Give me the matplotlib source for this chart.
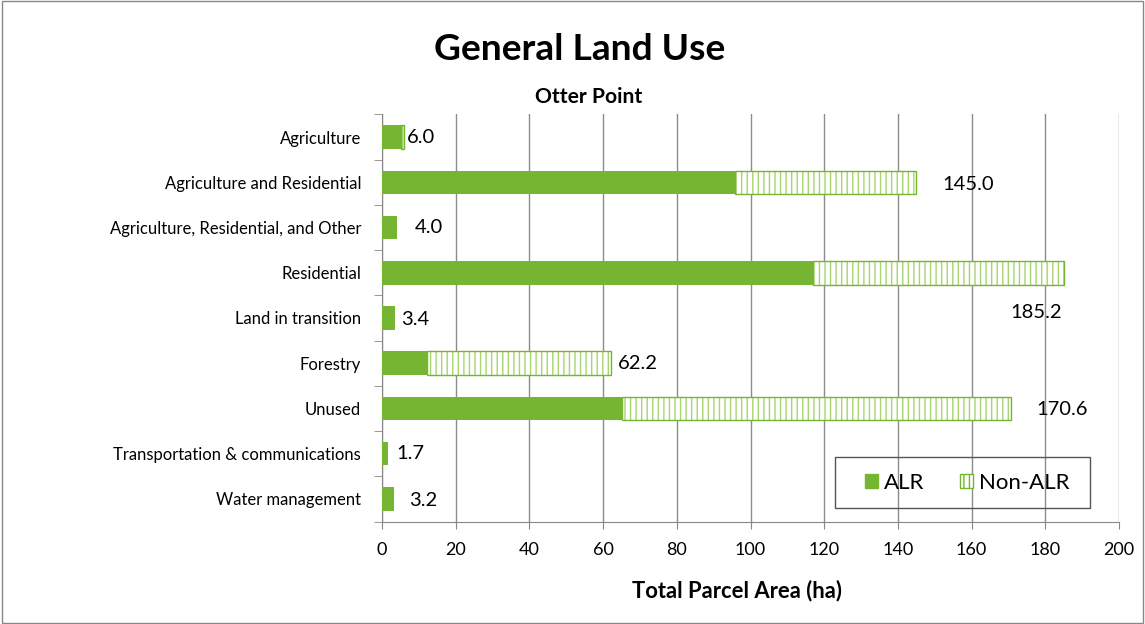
import numpy as np
import matplotlib
matplotlib.use('Agg')
import matplotlib.pyplot as plt
from matplotlib.patches import Patch, Rectangle

plt.rcParams['font.family'] = ['Lato', 'DejaVu Sans']

categories = ['Agriculture', 'Agriculture and Residential', 'Agriculture, Residential, and Other',
              'Residential', 'Land in transition', 'Forestry', 'Unused',
              'Transportation & communications', 'Water management']
alr = [5.2, 95.8, 4.0, 117.0, 3.4, 12.2, 65.0, 1.7, 3.2]
non_alr = [0.8, 49.2, 0.0, 68.2, 0.0, 50.0, 105.6, 0.0, 0.0]
totals = ['6.0', '145.0', '4.0', '185.2', '3.4', '62.2', '170.6', '1.7', '3.2']

# label placement (offset from bar end in ha, offset in rows)
lab_dx = [0.8, 7.0, 5.0, -14.8, 1.8, 1.8, 6.9, 2.1, 4.1]
lab_dy = [0.0, 0.05, 0.0, 0.87, 0.04, 0.0, 0.02, 0.0, 0.03]

green = '#76b531'
light = '#a6d46e'

fig = plt.figure(figsize=(11.45, 6.24), dpi=100)
ax = fig.add_axes([382/1145, 1-521.6/624, (1119-382)/1145, (521.6-114.4)/624])

y = np.arange(len(categories))
ax.barh(y, alr, height=0.52, color=green, zorder=3)
ax.barh(y, non_alr, left=alr, height=0.52, color='white', edgecolor=light,
        hatch='|||', linewidth=0, zorder=3)
nz = np.array(non_alr) > 0
ax.barh(y[nz], np.array(non_alr)[nz], left=np.array(alr)[nz], height=0.52, fill=False,
        edgecolor=green, linewidth=1.0, zorder=4)

for i, t in enumerate(totals):
    end = alr[i] + non_alr[i]
    ax.text(end + lab_dx[i], i + lab_dy[i], t, va='center', ha='left', fontsize=14.5, color='black')

ax.set_xlim(0, 200)
ax.set_ylim(len(categories) - 0.5, -0.5)
ax.set_xticks(np.arange(0, 201, 20))
ax.set_yticks(y)
ax.set_yticklabels(categories, fontsize=12)
ax.tick_params(axis='y', length=0, pad=15)
ax.set_yticks(np.arange(-0.5, len(categories)), minor=True)
ax.tick_params(axis='y', which='minor', length=6, color='#888888')
ax.tick_params(axis='x', length=5, color='#888888', labelsize=13, pad=10)
ax.grid(axis='x', color='#8c8c8c', linewidth=1, zorder=0)
for s in ['top', 'right']:
    ax.spines[s].set_visible(False)
for s in ['left', 'bottom']:
    ax.spines[s].set_color('#888888')

fig.text(737/1145, 1-591/624, 'Total Parcel Area (ha)', ha='center', va='center',
         fontsize=15.8, fontweight='bold')
fig.text(580/1145, 1-50/624, 'General Land Use', ha='center', va='center',
         fontsize=26.7, fontweight='bold')
fig.text(589/1145, 1-97/624, 'Otter Point', ha='center', va='center',
         fontsize=15.1, fontweight='bold')

handles = [Patch(facecolor=green, edgecolor=green),
           Patch(facecolor='white', edgecolor=green, hatch='|||')]
leg = fig.legend(handles, ['ALR', 'Non-ALR'], loc='center',
                 bbox_to_anchor=(967/1145, 1-483/624), ncol=2, fontsize=16,
                 frameon=False, handlelength=0.6, handleheight=0.6,
                 columnspacing=1.6, handletextpad=0.25)
fig.patches.append(Rectangle((835/1145, 1-508/624), 255/1145, 51/624, transform=fig.transFigure,
                             fill=False, edgecolor='#555555', linewidth=1))

fig.patches.append(Rectangle((0.002, 0.002), 0.996, 0.996, transform=fig.transFigure,
                             fill=False, edgecolor='#888888', linewidth=1))

fig.savefig('out.png', dpi=100)
